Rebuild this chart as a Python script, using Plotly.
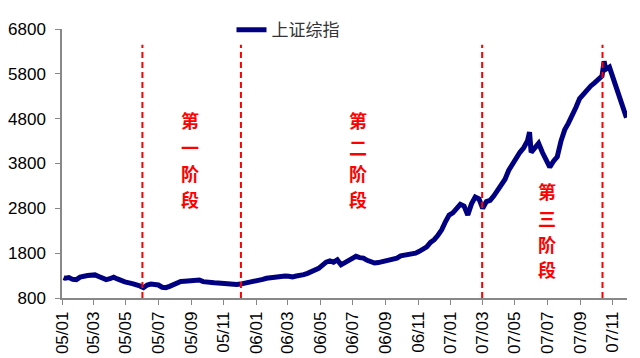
import plotly.graph_objects as go

# ---- data ----
dates = [
    "2005-01-04", "2005-01-07", "2005-01-14", "2005-01-21", "2005-01-28", "2005-02-04", "2005-02-18", "2005-02-25",
    "2005-03-04", "2005-03-11", "2005-03-18", "2005-03-25", "2005-04-01", "2005-04-08", "2005-04-15", "2005-04-22",
    "2005-04-29", "2005-05-13", "2005-05-20", "2005-05-27", "2005-06-03", "2005-06-10", "2005-06-17", "2005-06-24",
    "2005-07-01", "2005-07-08", "2005-07-15", "2005-07-22", "2005-07-29", "2005-08-05", "2005-08-12", "2005-08-19",
    "2005-08-26", "2005-09-02", "2005-09-09", "2005-09-16", "2005-09-23", "2005-09-30", "2005-10-14", "2005-10-21",
    "2005-10-28", "2005-11-04", "2005-11-11", "2005-11-18", "2005-11-25", "2005-12-02", "2005-12-09", "2005-12-16",
    "2005-12-23", "2005-12-30",
    "2006-01-06", "2006-01-13", "2006-01-20", "2006-01-27", "2006-02-10", "2006-02-17", "2006-02-24", "2006-03-03",
    "2006-03-10", "2006-03-17", "2006-03-24", "2006-03-31", "2006-04-07", "2006-04-14", "2006-04-21", "2006-04-28",
    "2006-05-12", "2006-05-19", "2006-05-26", "2006-06-02", "2006-06-09", "2006-06-16", "2006-06-23", "2006-06-30",
    "2006-07-07", "2006-07-14", "2006-07-21", "2006-07-28", "2006-08-04", "2006-08-11", "2006-08-18", "2006-08-25",
    "2006-09-01", "2006-09-08", "2006-09-15", "2006-09-22", "2006-09-29", "2006-10-13", "2006-10-20", "2006-10-27",
    "2006-11-03", "2006-11-10", "2006-11-17", "2006-11-24", "2006-12-01", "2006-12-08", "2006-12-15", "2006-12-22",
    "2006-12-29",
    "2007-01-05", "2007-01-12", "2007-01-19", "2007-01-26", "2007-02-02", "2007-02-09", "2007-02-16", "2007-02-23",
    "2007-03-02", "2007-03-09", "2007-03-16", "2007-03-23", "2007-03-30", "2007-04-06", "2007-04-13", "2007-04-20",
    "2007-04-27", "2007-05-04", "2007-05-11", "2007-05-18", "2007-05-25", "2007-05-29", "2007-06-01", "2007-06-08",
    "2007-06-15", "2007-06-22", "2007-06-29", "2007-07-06", "2007-07-13", "2007-07-20", "2007-07-27", "2007-08-03",
    "2007-08-10", "2007-08-17", "2007-08-24", "2007-08-31", "2007-09-07", "2007-09-14", "2007-09-21", "2007-09-28",
    "2007-10-12", "2007-10-16", "2007-10-19", "2007-10-26", "2007-11-02", "2007-11-09", "2007-11-16", "2007-11-23",
    "2007-11-27",
]
sh_index = [
    1255, 1240, 1255, 1215, 1210, 1265, 1300, 1305,
    1315, 1280, 1240, 1210, 1230, 1265, 1225, 1180,
    1160, 1120, 1100, 1070, 1030, 1090, 1110, 1105,
    1090, 1040, 1030, 1060, 1100, 1130, 1170, 1175,
    1180, 1195, 1210, 1200, 1165, 1150, 1140, 1135,
    1125, 1115, 1120, 1110, 1100, 1110, 1125, 1140,
    1150, 1160,
    1200, 1215, 1240, 1255, 1275, 1285, 1290, 1285,
    1270, 1290, 1300, 1320, 1350, 1390, 1420, 1460,
    1600, 1630, 1600, 1650, 1540, 1590, 1640, 1680,
    1730, 1700, 1690, 1640, 1600, 1580, 1590, 1610,
    1620, 1640, 1660, 1690, 1740, 1760, 1780, 1800,
    1840, 1880, 1940, 2040, 2100, 2200, 2320, 2500,
    2650,
    2700, 2780, 2890, 2850, 2650, 2900, 3050, 3010,
    2800, 2950, 2980, 3080, 3200, 3300, 3450, 3650,
    3800, 3950, 4050, 4150, 4300, 4500, 4050, 4150,
    4250, 4050, 3900, 3720, 3850, 3950, 4300, 4550,
    4700, 4850, 5050, 5250, 5350, 5450, 5530, 5600,
    5750, 6080, 5900, 5950, 5700, 5450, 5200, 4950,
    4820,
]
series_name = "上证综指"
stage_boundaries = ["2005-06-01", "2005-12-03", "2007-03-01", "2007-10-13"]
stage_labels = [["第", "一", "阶", "段"], ["第", "二", "阶", "段"], ["第", "三", "阶", "段"]]
y_ticks = [800, 1800, 2800, 3800, 4800, 5800, 6800]

fig = go.Figure()
fig.add_trace(go.Scatter(
    x=dates, y=sh_index, mode="lines", name=series_name,
    line=dict(color="#000080", width=5),
))

for d in stage_boundaries:
    fig.add_shape(type="line", xref="x", yref="y", x0=d, x1=d, y0=800, y1=6450,
                  line=dict(color="#FF0000", width=2, dash="6px,4px"))

label_x = ["2005-08-30", "2006-07-10", "2007-07-01"]
label_y = [[4771, 4175, 3580, 3006], [4771, 4175, 3580, 3006], [3183, 2587, 2013, 1440]]
for lx, chars, ys in zip(label_x, stage_labels, label_y):
    for ch, yy in zip(chars, ys):
        fig.add_annotation(x=lx, y=yy, xref="x", yref="y", text="<b>" + ch + "</b>",
                           showarrow=False,
                           font=dict(family="Noto Sans CJK SC", size=18, color="#FF0000"))

axis_color = "#888888"
fig.update_layout(
    width=640, height=358,
    margin=dict(l=62, r=13, t=26, b=60),
    plot_bgcolor="white", paper_bgcolor="white",
    font=dict(family="Liberation Sans, Arial, sans-serif", size=17, color="#000000"),
    showlegend=True,
    legend=dict(x=0.30, y=0.996, xanchor="left", yanchor="middle",
                bgcolor="rgba(0,0,0,0)",
                font=dict(family="Noto Sans CJK SC", size=17, color="#333333")),
    xaxis=dict(
        type="date", range=["2005-01-01", "2007-11-28"],
        tick0="2005-01-01", dtick="M2", tickformat="%y/%m",
        tickangle=-90, ticks="outside", ticklen=5, tickcolor=axis_color,
        showline=True, linecolor=axis_color, linewidth=1.5,
        showgrid=False, zeroline=False, automargin=False,
        tickfont=dict(size=17),
    ),
    yaxis=dict(
        range=[800, 6800], tickvals=y_ticks,
        ticks="outside", ticklen=5, tickcolor=axis_color,
        showline=True, linecolor=axis_color, linewidth=1.5,
        showgrid=False, zeroline=False, automargin=False,
        ticklabelstandoff=6,
        tickfont=dict(size=17),
    ),
)

fig.write_html("out.html", config={"displayModeBar": False},
               post_script="document.body.style.margin='0';")
